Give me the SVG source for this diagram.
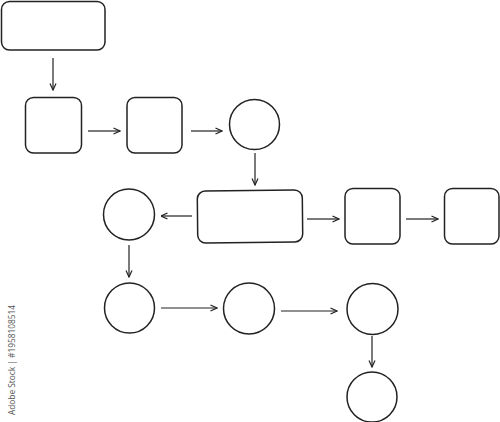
<svg xmlns="http://www.w3.org/2000/svg" width="500" height="422" viewBox="0 0 500 422">
<style>
.n{fill:#fff;stroke:#222;stroke-width:1.5}
.c{fill:none;stroke:#222;stroke-width:1.2;marker-end:url(#ah)}
.wm{font-family:"Open Sans","DejaVu Sans",sans-serif;font-size:8.5px;fill:#555}
</style>
<defs>
<marker id="ah" viewBox="0 0 8 8" refX="7.5" refY="4" markerWidth="8" markerHeight="8" markerUnits="userSpaceOnUse" orient="auto">
<path d="M1,1 L7.5,4 L1,7" fill="none" stroke="#222" stroke-width="1.2"/>
</marker>
</defs>
<rect width="500" height="422" fill="#fff"/>
<g id="connectors">
<line class="c" x1="53" y1="58" x2="53" y2="90"/>
<line class="c" x1="88" y1="131" x2="120" y2="131"/>
<line class="c" x1="191" y1="131" x2="222" y2="131"/>
<line class="c" x1="255" y1="153" x2="255" y2="185"/>
<line class="c" x1="192" y1="216" x2="161" y2="216"/>
<line class="c" x1="307" y1="219" x2="339" y2="219"/>
<line class="c" x1="406" y1="219" x2="438" y2="219"/>
<line class="c" x1="129" y1="245" x2="129" y2="277"/>
<line class="c" x1="161" y1="308" x2="217" y2="308"/>
<line class="c" x1="281" y1="311" x2="337" y2="311"/>
<line class="c" x1="372" y1="336" x2="372" y2="367"/>
</g>
<g id="n1"><rect class="n" x="1.5" y="1.5" width="103.5" height="48.5" rx="8"/></g>
<g id="n2"><rect class="n" x="25.5" y="97.5" width="56" height="55.5" rx="8"/></g>
<g id="n3"><rect class="n" x="127" y="97.5" width="55" height="55.5" rx="8"/></g>
<g id="n4"><circle class="n" cx="254.5" cy="124.5" r="25"/></g>
<g id="n5"><rect class="n" x="197.5" y="190.5" width="105" height="52" rx="8" transform="rotate(-0.6 250 216)"/></g>
<g id="n6"><circle class="n" cx="129" cy="214.5" r="25.5"/></g>
<g id="n7"><rect class="n" x="345" y="188.5" width="55" height="55.5" rx="8"/></g>
<g id="n8"><rect class="n" x="444.5" y="188.5" width="54.5" height="55.5" rx="8"/></g>
<g id="n9"><circle class="n" cx="129.5" cy="308" r="25"/></g>
<g id="n10"><circle class="n" cx="249" cy="308.5" r="25.5"/></g>
<g id="n11"><circle class="n" cx="372.5" cy="309" r="25.5"/></g>
<g id="n12"><circle class="n" cx="372" cy="397" r="25"/></g>
<text class="wm" transform="translate(15 415) rotate(-90)" textLength="110" lengthAdjust="spacingAndGlyphs">Adobe Stock | #1958108514</text>
</svg>
